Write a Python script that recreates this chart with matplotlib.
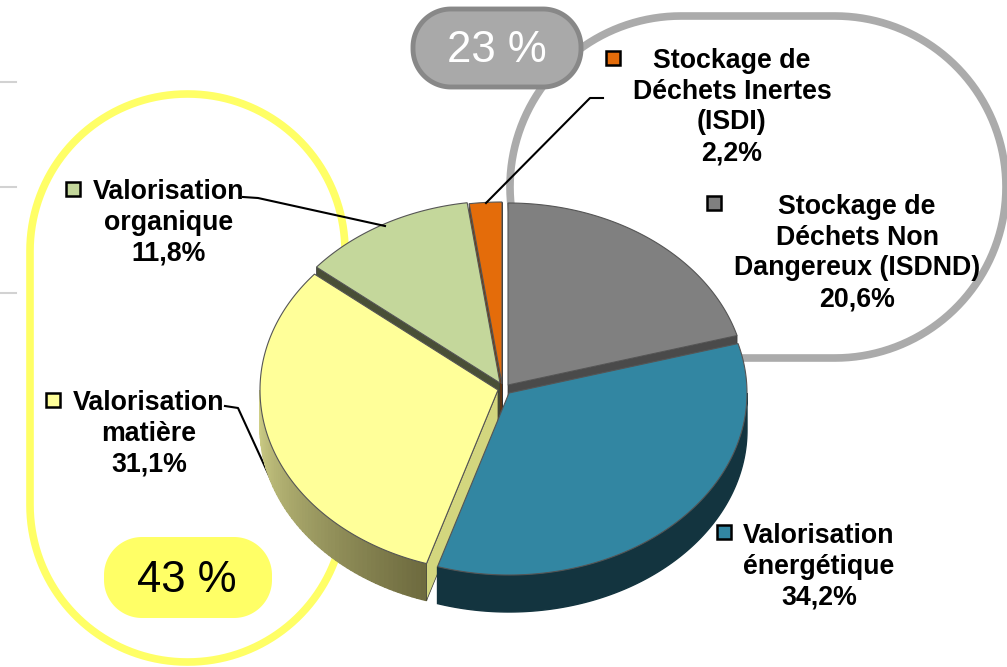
import numpy as np
import matplotlib
matplotlib.use("Agg")
import matplotlib.pyplot as plt
from matplotlib.colors import to_rgb
from matplotlib.patches import Rectangle

plt.rcParams["font.family"] = ["Liberation Sans", "DejaVu Sans"]

# data, clockwise from the top of the pie
names = ["Stockage de\nDéchets Non\nDangereux (ISDND)",
         "Valorisation\nénergétique",
         "Valorisation\nmatière",
         "Valorisation\norganique",
         "Stockage de\nDéchets Inertes\n(ISDI)"]
shares = [20.6, 34.2, 31.1, 11.8, 2.2]
group_labels = ["23 %", "43 %"]

# styles and layout (pixels)
top_colors = ["#808080", "#3286A2", "#FFFF99", "#C4D79B", "#E46C0A"]
wall_colors = ["#4A4A4A", "#13343F", "#D3D67E", "#494F36", "#7A3A05"]
apex = [(508, 385), (509, 393), (498, 390), (500, 383), (502, 384)]
rx, ry, depth = 238, 182, 37
# centre x and first baseline of each label
label_pos = [(857, 214), (819, 543), (149, 410), (169, 199), (732, 68)]
line_step = 30.7
key_pos = [(714, 203), (724, 532), (53, 400), (73, 189), (613, 58)]

fig = plt.figure(figsize=(10.07, 6.67), dpi=100)
ax = fig.add_axes([0, 0, 1, 1])
ax.set_xlim(0, 1007)
ax.set_ylim(667, 0)
ax.axis("off")


def pill(x0, y0, w, h, r, **kw):
    # rounded box with true circular corners
    corners = [(x0 + w - r, y0 + r, -90), (x0 + w - r, y0 + h - r, 0),
               (x0 + r, y0 + h - r, 90), (x0 + r, y0 + r, 180)]
    xs, ys = [], []
    for cx, cy, a in corners:
        t = np.radians(np.linspace(a, a + 90, 40))
        xs.extend(cx + r * np.cos(t))
        ys.extend(cy + r * np.sin(t))
    ax.fill(xs, ys, **kw)


# bits of slide grid left of the chart
for y in [82, 187, 293]:
    ax.plot([0, 16], [y, y], color="#D2D2D2", lw=1.5, zorder=1)

# group outlines
pill(30, 94, 315, 568, 157, fc="none", ec="#FFFF66", lw=5.5, zorder=2)
pill(510, 16, 496, 342, 171, fc="none", ec="#ABABAB", lw=5.5, zorder=2)


def rim(center, a, b, n=120):
    t = np.radians(np.linspace(a, b, n))
    return center[0] + rx * np.sin(t), center[1] - ry * np.cos(t)


edges = np.concatenate([[0], np.cumsum(shares)]) / sum(shares) * 360
z = 10


def cut_face(i, ang, color):
    global z
    x, y = rim(apex[i], ang, ang, 1)
    ax.fill([apex[i][0], x[0], x[0], apex[i][0]],
            [apex[i][1], y[0], y[0] + depth, apex[i][1] + depth],
            fc=color, ec="#333333", lw=0.5, zorder=z)
    z += 1


def top_face(i):
    global z
    x, y = rim(apex[i], edges[i], edges[i + 1])
    ax.fill(np.r_[apex[i][0], x], np.r_[apex[i][1], y], fc=top_colors[i],
            ec="#555555", lw=0.8, zorder=z)
    z += 1


def outer_wall(i, a, b, c0, c1, n=60):
    global z
    steps = np.linspace(a, b, n + 1)
    rgb0, rgb1 = to_rgb(c0), to_rgb(c1)
    for k in range(n):
        x, y = rim(apex[i], steps[k], steps[k + 1], max(6, 120 // n))
        f = k / max(n - 1, 1)
        col = tuple(p + (q - p) * f for p, q in zip(rgb0, rgb1))
        ax.fill(np.r_[x, x[::-1]], np.r_[y, y[::-1] + depth], fc=col, ec=col, lw=1.0, zorder=z)
    z += 1


# back slices first
cut_face(0, edges[1], wall_colors[0])
top_face(0)
cut_face(4, edges[4], wall_colors[4])
cut_face(4, edges[5], "#111111")
top_face(4)
cut_face(3, edges[3], wall_colors[3])
top_face(3)
outer_wall(2, 270, edges[2], "#D2D28A", "#6E6B3F")
cut_face(2, edges[2], wall_colors[2])
top_face(2)
outer_wall(1, 90, edges[2], wall_colors[1], wall_colors[1], n=1)
top_face(1)

# leader lines
zl = 40
ax.plot([243, 258, 385], [197, 198, 226], color="black", lw=1.5, zorder=zl)
ax.plot([603, 590, 486], [98, 98, 203], color="black", lw=1.5, zorder=zl)
ax.plot([225, 238, 272], [406, 408, 482], color="black", lw=1.5, zorder=9)

# labels with their keys
for name, share, pos, key, color in zip(names, shares, label_pos, key_pos, top_colors):
    lines = name.split("\n") + [f"{share:.1f}%".replace(".", ",")]
    for k, line in enumerate(lines):
        ax.text(pos[0], pos[1] + k * line_step, line, ha="center", va="baseline",
                fontsize=19.3, fontweight="bold", zorder=50)
    ax.add_patch(Rectangle((key[0] - 7, key[1] - 7), 14, 14, fc=color, ec="black", lw=1.8, zorder=50))

# group badges
pill(413, 9, 168, 78, 38, fc="#A9A9A9", ec="#888888", lw=3.5, zorder=45)
ax.text(497, 50, group_labels[0], ha="center", va="center", fontsize=31.5, color="white", zorder=46)
pill(104, 537, 168, 81, 38, fc="#FFFF66", ec="none", zorder=45)
ax.text(187, 581, group_labels[1], ha="center", va="center", fontsize=31.5, color="black", zorder=46)

fig.savefig("out.png", dpi=100)
